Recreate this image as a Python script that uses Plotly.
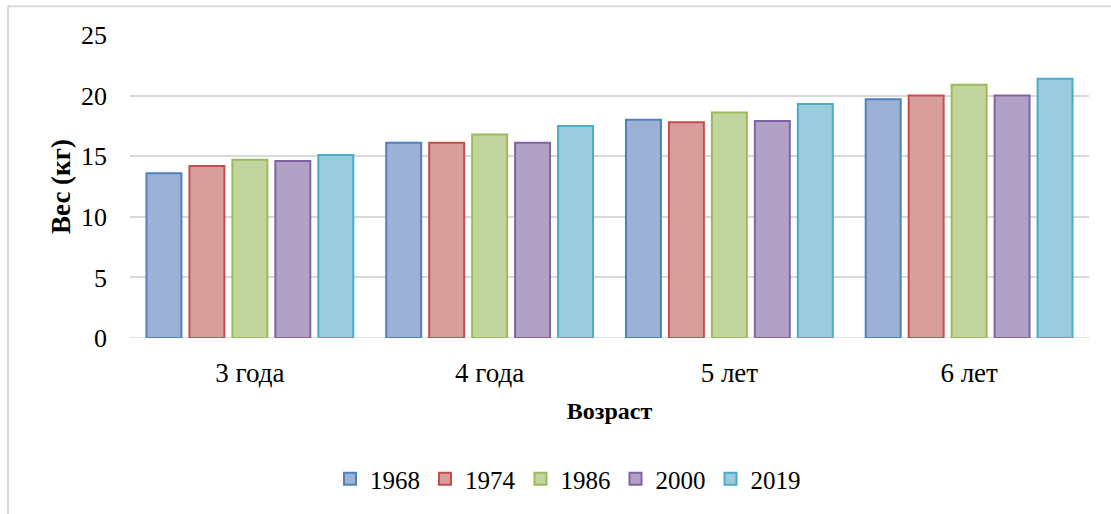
import plotly.graph_objects as go

categories = ["3 года", "4 года", "5 лет", "6 лет"]
years = ["1968", "1974", "1986", "2000", "2019"]
v1968 = [13.6, 16.1, 18.0, 19.7]
v1974 = [14.2, 16.1, 17.8, 20.0]
v1986 = [14.7, 16.8, 18.6, 20.9]
v2000 = [14.6, 16.1, 17.9, 20.0]
v2019 = [15.1, 17.5, 19.3, 21.4]
series = [v1968, v1974, v1986, v2000, v2019]

fills = ["#9DB1D7", "#D99E9C", "#C3D59F", "#B2A1C7", "#9BCCDD"]
borders = ["#4F81BD", "#C0504D", "#9BBB59", "#8064A2", "#4BACC6"]

FONT = "Liberation Serif"

fig = go.Figure()
for name, vals, fc, bc in zip(years, series, fills, borders):
    fig.add_trace(go.Bar(
        x=categories, y=vals, name=name,
        marker=dict(color=fc, line=dict(color=bc, width=2)),
    ))

W, H = 1111, 514
L, R, T, B = 130, 22, 35, 174
pw = W - L - R
ph = H - T - B

def px2x(p):
    return (p - L) / pw

def py2y(p):
    return (H - B - p) / ph

fig.update_layout(
    width=W, height=H,
    margin=dict(l=L, r=R, t=T, b=B),
    paper_bgcolor="white", plot_bgcolor="white",
    barmode="group", bargap=0.104, bargroupgap=0.186,
    font=dict(family=FONT, size=26, color="#000000"),
    xaxis=dict(
        showgrid=False, zeroline=False, showline=False, ticks="",
        tickfont=dict(size=27), ticklabelstandoff=16,
        title=dict(text="<b>Возраст</b>", font=dict(size=24), standoff=15),
    ),
    yaxis=dict(
        range=[0, 25], dtick=5, showgrid=True, gridcolor="#D9D9D9", gridwidth=1.5,
        zeroline=False, showline=False, ticks="",
        tickfont=dict(size=26), ticklabelstandoff=22,
        title=dict(text="<b>Вес (кг)</b>", font=dict(size=27), standoff=2),
    ),
    legend=dict(
        orientation="h", x=px2x(568), xanchor="center", y=py2y(482), yanchor="middle",
        font=dict(size=25), itemwidth=30, traceorder="normal",
    ),
    shapes=[
        dict(type="line", xref="paper", yref="paper",
             x0=px2x(8), x1=px2x(8), y0=py2y(6), y1=py2y(520),
             line=dict(color="#D9D9D9", width=2)),
        dict(type="line", xref="paper", yref="paper",
             x0=px2x(8), x1=px2x(1115), y0=py2y(6), y1=py2y(6),
             line=dict(color="#D9D9D9", width=2)),
        dict(type="line", xref="paper", yref="y",
             x0=0, x1=1, y0=0, y1=0,
             line=dict(color="#D9D9D9", width=1.5), layer="below"),
    ],
)

fig.write_html("out.html")
